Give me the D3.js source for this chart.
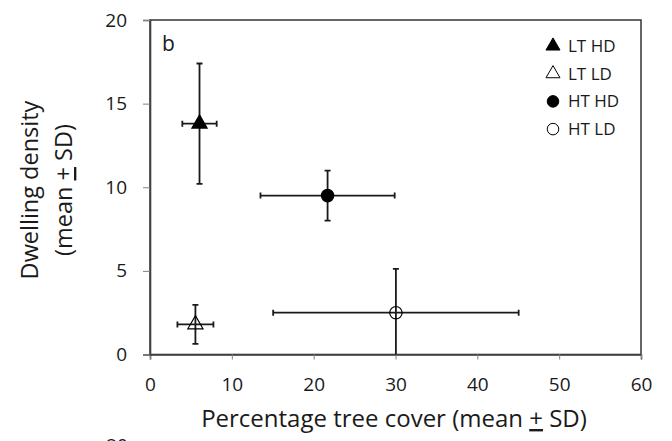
<!DOCTYPE html>
<html>
<head>
<meta charset="utf-8">
<script src="https://cdn.jsdelivr.net/npm/d3@7"></script>
<style>
  body { margin: 0; background: #fff; }
  text { font-family: "Open Sans", "DejaVu Sans", sans-serif; fill: #1a1a1a; }
</style>
</head>
<body>
<div id="chart"></div>
<script>
// Data (panel b)
const groups = ['LT HD', 'LT LD', 'HT HD', 'HT LD'];
const coverMean = [6.05, 5.55, 21.7, 30.05];
const coverSD = [2.1, 2.2, 8.2, 15.0];
const densityMean = [13.8, 1.8, 9.5, 2.5];
const densitySD = [3.6, 1.17, 1.5, 2.62];
const symbols = ['triangle', 'triangle', 'circle', 'circle'];
const filled = [true, false, true, false];
const xTicks = [0, 10, 20, 30, 40, 50, 60];
const yTicks = [0, 5, 10, 15, 20];

const W = 672, H = 441;
const margin = { left: 150, right: 31, top: 20, bottom: 86.5 };
const plotW = W - margin.left - margin.right;
const plotH = H - margin.top - margin.bottom;

const points = groups.map((g, i) => ({
  group: g, x: coverMean[i], sx: coverSD[i], y: densityMean[i], sy: densitySD[i],
  symbol: symbols[i], filled: filled[i]
}));

const svg = d3.select('#chart').append('svg')
  .attr('width', W).attr('height', H);

const x = d3.scaleLinear().domain([0, 60]).range([0, plotW]);
const y = d3.scaleLinear().domain([0, 20]).range([plotH, 0]);

const g = svg.append('g')
  .attr('transform', `translate(${margin.left},${margin.top})`);

svg.append('defs').append('clipPath').attr('id', 'plot-clip')
  .append('rect').attr('width', plotW).attr('height', plotH);

// plot frame
g.append('rect')
  .attr('width', plotW).attr('height', plotH)
  .attr('fill', 'none').attr('stroke', '#404040').attr('stroke-width', 1.6);

// axes
const xAxis = g.append('g')
  .attr('transform', `translate(0,${plotH})`)
  .call(d3.axisBottom(x).tickValues(xTicks).tickSize(5).tickPadding(18));
const yAxis = g.append('g')
  .call(d3.axisLeft(y).tickValues(yTicks).tickSize(7).tickPadding(16));

[xAxis, yAxis].forEach(a => {
  a.select('.domain').attr('stroke', '#404040').attr('stroke-width', 1.6);
  a.selectAll('.tick line').attr('stroke', '#808080').attr('stroke-width', 1);
  a.selectAll('.tick text')
    .style('font-size', '19px').attr('fill', '#1a1a1a');
});

// panel label
g.append('text')
  .attr('x', 12).attr('y', 31)
  .style('font-size', '21px')
  .text('b');

// error bars
const bars = g.append('g').attr('clip-path', 'url(#plot-clip)')
  .attr('stroke', '#1a1a1a').attr('stroke-width', 1.8).attr('fill', 'none');
const cap = 3;

points.forEach(d => {
  // vertical
  bars.append('line')
    .attr('x1', x(d.x)).attr('x2', x(d.x))
    .attr('y1', y(d.y - d.sy)).attr('y2', y(d.y + d.sy));
  [d.y - d.sy, d.y + d.sy].forEach(v => {
    bars.append('line')
      .attr('x1', x(d.x) - cap).attr('x2', x(d.x) + cap)
      .attr('y1', y(v)).attr('y2', y(v));
  });
  // horizontal
  bars.append('line')
    .attr('x1', x(d.x - d.sx)).attr('x2', x(d.x + d.sx))
    .attr('y1', y(d.y)).attr('y2', y(d.y));
  [d.x - d.sx, d.x + d.sx].forEach(v => {
    bars.append('line')
      .attr('x1', x(v)).attr('x2', x(v))
      .attr('y1', y(d.y) - cap).attr('y2', y(d.y) + cap);
  });
});

// markers
const symbolPath = (type, size) =>
  d3.symbol().type(type === 'triangle' ? d3.symbolTriangle : d3.symbolCircle).size(size)();

g.selectAll('.marker')
  .data(points)
  .enter()
  .append('path')
  .attr('class', 'marker')
  .attr('transform', d => `translate(${x(d.x)},${y(d.y)})`)
  .attr('d', d => symbolPath(d.symbol, d.symbol === 'triangle' ? 100 : 120))
  .attr('fill', d => d.filled ? '#000' : 'none')
  .attr('stroke', '#000')
  .attr('stroke-width', 1.2);

// legend
const legend = g.append('g')
  .attr('transform', `translate(${403},${26})`);

const legendItems = legend.selectAll('.legend-item')
  .data(points)
  .enter()
  .append('g')
  .attr('class', 'legend-item')
  .attr('transform', (d, i) => `translate(0,${i * 27.7})`);

legendItems.append('path')
  .attr('d', d => symbolPath(d.symbol, d.symbol === 'triangle' ? 85 : 105))
  .attr('fill', d => d.filled ? '#000' : '#fff')
  .attr('stroke', '#000')
  .attr('stroke-width', 1);

legendItems.append('text')
  .attr('x', 15)
  .attr('y', 6)
  .style('font-size', '17px')
  .text(d => d.group);

// x axis title
const xTitle = svg.append('text')
  .attr('x', 394).attr('y', 427)
  .attr('text-anchor', 'middle')
  .style('font-size', '24px');
xTitle.append('tspan').text('Percentage tree cover (mean ');
xTitle.append('tspan').style('text-decoration', 'underline').text('+');
xTitle.append('tspan').text(' SD)');

// y axis title (two lines)
const yTitle = svg.append('g')
  .attr('transform', 'translate(0,190) rotate(-90)');
yTitle.append('text')
  .attr('x', 0).attr('y', 38)
  .attr('text-anchor', 'middle')
  .style('font-size', '23.5px')
  .text('Dwelling density');
const yLine2 = yTitle.append('text')
  .attr('x', 0).attr('y', 72)
  .attr('text-anchor', 'middle')
  .style('font-size', '23.5px');
yLine2.append('tspan').text('(mean ');
yLine2.append('tspan').style('text-decoration', 'underline').text('+');
yLine2.append('tspan').text(' SD)');

// top of the next panel's tick label, cut by the frame edge
svg.append('text')
  .attr('x', 117).attr('y', 452)
  .attr('text-anchor', 'middle')
  .style('font-size', '19px')
  .text('20');
</script>
</body>
</html>
